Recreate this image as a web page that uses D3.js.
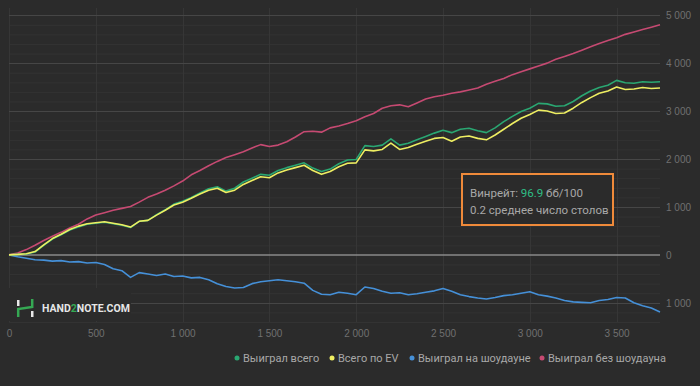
<!DOCTYPE html>
<html>
<head>
<meta charset="utf-8">
<script src="https://cdn.jsdelivr.net/npm/d3@7"></script>
<style>
  html, body { margin: 0; padding: 0; background: #2b2b2b; }
  svg { display: block; font-family: Roboto, "Noto Sans", sans-serif; }
  .tick text { fill: #707070; font-size: 10px; }
  .legendText { fill: #a8a8a8; font-size: 11px; }
  .infoText { fill: #a8a8a8; font-size: 11.5px; }
</style>
</head>
<body>
<div id="chart"></div>
<script>
"use strict";

// hands, every 50
let hands = d3.range(0, 3751, 50);

let wonTotal = [0, 10, 20, 60, 200, 330, 420, 520, 580, 640, 660, 680, 650, 620, 570, 700, 720, 840, 940, 1060,
  1120, 1200, 1290, 1380, 1420, 1330, 1390, 1520, 1600, 1680, 1660, 1760, 1820, 1870, 1920, 1810, 1740, 1790, 1900, 1980,
  1990, 2280, 2260, 2290, 2420, 2290, 2330, 2400, 2470, 2540, 2600, 2550, 2620, 2640, 2590, 2550, 2650, 2780, 2890, 2990,
  3060, 3160, 3150, 3100, 3110, 3200, 3320, 3420, 3490, 3540, 3640, 3590, 3580, 3610, 3600, 3610];

let totalEV = [0, 10, 25, 70, 210, 340, 430, 530, 600, 650, 670, 690, 660, 630, 580, 700, 720, 830, 930, 1040,
  1100, 1180, 1270, 1350, 1390, 1300, 1350, 1470, 1550, 1630, 1610, 1710, 1770, 1820, 1870, 1760, 1680, 1740, 1840, 1910,
  1920, 2190, 2170, 2200, 2330, 2200, 2240, 2310, 2370, 2430, 2450, 2370, 2460, 2480, 2430, 2400, 2500, 2620, 2740, 2850,
  2930, 3020, 3000, 2950, 2960, 3060, 3180, 3280, 3370, 3420, 3500, 3450, 3460, 3490, 3470, 3480];

let wonShowdown = [0, -40, -70, -100, -110, -130, -120, -150, -140, -170, -160, -200, -290, -330, -470, -370, -400, -430, -400, -450,
  -440, -480, -470, -520, -600, -660, -690, -680, -600, -560, -540, -520, -540, -560, -590, -740, -820, -830, -780, -800,
  -830, -670, -700, -760, -800, -790, -830, -810, -780, -750, -700, -760, -830, -870, -900, -920, -890, -850, -830, -800,
  -770, -830, -860, -900, -950, -980, -990, -1000, -950, -930, -890, -900, -1000, -1060, -1110, -1190];

let wonNoShowdown = [0, 40, 110, 200, 300, 390, 470, 560, 640, 750, 830, 880, 930, 970, 1010, 1100, 1200, 1270, 1350, 1440,
  1540, 1670, 1760, 1860, 1950, 2030, 2090, 2150, 2230, 2300, 2260, 2290, 2360, 2460, 2570, 2580, 2560, 2650, 2690, 2740,
  2800, 2880, 2950, 3060, 3110, 3130, 3090, 3170, 3250, 3300, 3330, 3370, 3400, 3440, 3480, 3560, 3620, 3680, 3760, 3820,
  3880, 3940, 4000, 4080, 4140, 4200, 4270, 4340, 4410, 4470, 4530, 4600, 4650, 4700, 4750, 4800];

let seriesNames = ["Выиграл всего", "Всего по EV", "Выиграл на шоудауне", "Выиграл без шоудауна"];
let seriesColors = ["#2aa772", "#eeee62", "#4590d8", "#c64a72"];

let xTicks = [0, 500, 1000, 1500, 2000, 2500, 3000, 3500];
let yTicks = [-1000, 0, 1000, 2000, 3000, 4000, 5000];

let winrate = "96.9";
let avgTables = "0.2";

let width = 700;
let height = 386;
let plot = { left: 9, right: 660, top: 8, bottom: 322 };

let svg = d3.select("#chart").append("svg")
  .attr("width", width)
  .attr("height", height)
  .attr("viewBox", [0, 0, width, height].join(" "));

svg.append("rect")
  .attr("width", width)
  .attr("height", height)
  .attr("fill", "#2b2b2b");

let x = d3.scaleLinear()
  .domain([0, 3750])
  .range([plot.left, plot.right]);

let y = d3.scaleLinear()
  .domain([-1400, 5150])
  .range([plot.bottom, plot.top]);

let fmt = v => d3.format(",")(Math.abs(v)).replace(/,/g, " ");

// minor grid (every 200)
svg.append("g")
  .selectAll("line")
  .data(d3.range(-1400, 5101, 200).filter(v => v % 1000 !== 0))
  .enter().append("line")
  .attr("x1", plot.left)
  .attr("x2", plot.right)
  .attr("y1", d => y(d) + 0.5)
  .attr("y2", d => y(d) + 0.5)
  .attr("stroke", "#333333");

// vertical grid
svg.append("g")
  .selectAll("line")
  .data(xTicks)
  .enter().append("line")
  .attr("x1", d => Math.round(x(d)) + 0.5)
  .attr("x2", d => Math.round(x(d)) + 0.5)
  .attr("y1", plot.top)
  .attr("y2", plot.bottom)
  .attr("stroke", "#363636");

// major grid
svg.append("g")
  .selectAll("line")
  .data(yTicks.filter(v => v !== 0))
  .enter().append("line")
  .attr("x1", plot.left)
  .attr("x2", plot.right)
  .attr("y1", d => Math.round(y(d)) + 0.5)
  .attr("y2", d => Math.round(y(d)) + 0.5)
  .attr("stroke", "#464646");

svg.append("line")
  .attr("x1", plot.left)
  .attr("x2", plot.right)
  .attr("y1", y(0))
  .attr("y2", y(0))
  .attr("stroke", "#8a8a8a")
  .attr("stroke-width", 1.5);

// axes
let xAxis = svg.append("g")
  .attr("transform", `translate(0, ${plot.bottom + 2})`)
  .call(d3.axisBottom(x).tickValues(xTicks).tickSize(0).tickPadding(6).tickFormat(fmt));
xAxis.select(".domain").remove();

let yAxis = svg.append("g")
  .attr("transform", `translate(${plot.right + 6}, 0)`)
  .call(d3.axisRight(y).tickValues(yTicks).tickSize(0).tickPadding(0).tickFormat(fmt));
yAxis.select(".domain").remove();

// watermark
let mark = svg.append("g")
  .attr("transform", "translate(16, 299)");

mark.append("rect")
  .attr("x", -7)
  .attr("y", -11)
  .attr("width", 122)
  .attr("height", 33)
  .attr("fill", "#2b2b2b");

mark.append("rect").attr("x", 1).attr("y", 1).attr("width", 2.5).attr("height", 6).attr("fill", "#e8e8e8");
mark.append("rect").attr("x", 15).attr("y", 12).attr("width", 2.5).attr("height", 6).attr("fill", "#e8e8e8");
mark.append("path")
  .attr("d", "M2.2,18 L2.2,10 L16.2,8 L16.2,0")
  .attr("fill", "none")
  .attr("stroke", "#35a853")
  .attr("stroke-width", 2.5);

let markText = mark.append("text")
  .attr("x", 26)
  .attr("y", 13)
  .style("font-size", "10.5px")
  .style("font-weight", "bold")
  .attr("fill", "#e6e6e6");
markText.append("tspan").text("HAND");
markText.append("tspan").attr("fill", "#35a853").text("2");
markText.append("tspan").text("NOTE.COM");

// lines
let allSeries = [wonShowdown, wonNoShowdown, wonTotal, totalEV];
let drawOrder = [2, 3, 0, 1];

let line = d3.line()
  .x((d, i) => x(hands[i]))
  .y(d => y(d));

svg.append("g")
  .selectAll("path")
  .data(drawOrder)
  .enter().append("path")
  .attr("d", k => line([wonTotal, totalEV, wonShowdown, wonNoShowdown][k]))
  .attr("fill", "none")
  .attr("stroke", k => seriesColors[k])
  .attr("stroke-width", 1.6)
  .attr("stroke-linejoin", "round");

// info box
let info = svg.append("g")
  .attr("transform", "translate(462, 174)");

info.append("rect")
  .attr("width", 151)
  .attr("height", 51)
  .attr("fill", "#2b2b2b")
  .attr("stroke", "#ef8a3a")
  .attr("stroke-width", 2);

let line1 = info.append("text")
  .attr("class", "infoText")
  .attr("x", 8)
  .attr("y", 23);
line1.append("tspan").text("Винрейт: ");
line1.append("tspan").attr("fill", "#2fbf86").text(winrate);
line1.append("tspan").text(" бб/100");

info.append("text")
  .attr("class", "infoText")
  .attr("x", 8)
  .attr("y", 40)
  .text(avgTables + " среднее число столов");

// legend
let legendX = [234, 329, 409, 539];
let legend = svg.append("g")
  .attr("transform", "translate(0, 358)");

let items = legend.selectAll("g")
  .data(seriesNames)
  .enter().append("g")
  .attr("transform", (d, i) => `translate(${legendX[i]}, 0)`);

items.append("circle")
  .attr("cx", 3)
  .attr("cy", 0)
  .attr("r", 2.5)
  .attr("fill", (d, i) => seriesColors[i]);

items.append("text")
  .attr("class", "legendText")
  .attr("x", 9)
  .attr("y", 4)
  .text(d => d);
</script>
</body>
</html>
